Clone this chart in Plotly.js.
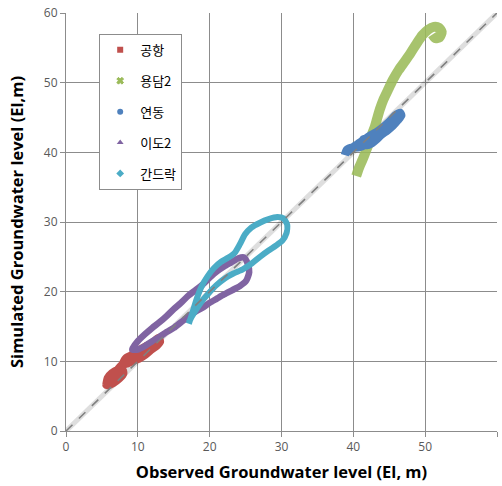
<!DOCTYPE html>
<html>
<head>
<meta charset="utf-8">
<script src="https://cdn.plot.ly/plotly-3.0.1.min.js"></script>
<style>html,body{margin:0;padding:0;background:#fff;}#chart{width:502px;height:486px;}</style>
</head>
<body>
<div id="chart"></div>
<script>
// 공항
const airportX = [5.6,5.8,6.4,7.2,7.8,8.0,7.4,6.6,5.9,5.6, 7.6,8.3,9.0,10.0,11.0,12.0,12.9,13.1,12.6,11.8,11.0,10.2,9.4,8.6,7.9,8.3,9.2,10.3];
const airportY = [6.6,7.6,8.3,8.8,9.0,8.3,7.5,6.9,6.6,6.6, 9.3,10.0,10.8,11.5,12.1,12.6,13.4,12.8,12.2,11.6,10.9,10.4,10.1,9.7,9.6,10.4,10.9,11.2];
// 용담2
const yongdamX = [40.4,40.8,41.3,41.8,42.2,42.6,43.0,43.3,43.7,44.2,44.8,45.5,46.3,47.2,48.0,48.8,49.6,50.4,51.2,51.9,52.3,52.0,51.4,51.0];
const yongdamY = [36.6,37.8,39.0,40.3,41.4,42.6,43.7,44.8,46.2,47.6,48.9,50.4,51.8,53.1,54.3,55.6,56.8,57.6,58.0,57.9,57.3,56.5,56.4,56.9];
// 연동
const yeondongX = [38.8,39.1,39.9,40.8,41.6,41.9,41.4,41.2,41.9,42.6,43.2,43.9,44.7,45.5,46.2,46.7,46.5,45.8,45.0,44.1,43.2,42.3,41.3,40.3,39.4,38.9];
const yeondongY = [39.6,40.4,40.7,40.7,41.1,41.7,41.9,41.4,41.0,41.3,41.8,42.5,43.1,43.8,44.6,45.3,45.7,45.3,44.4,43.6,42.9,42.4,41.7,41.0,40.3,39.8];
// 이도2
const idoX = [9.2,10.0,11.0,12.0,13.0,14.0,15.0,16.0,17.0,18.0,19.0,20.0,21.0,22.0,23.0,24.0,24.8,25.3,25.5,25.1,24.2,23.1,22.0,21.0,20.0,19.0,18.0,17.0,16.0,15.0,14.0,13.0,12.0,11.0,10.0,9.2];
const idoY = [11.7,12.9,13.9,14.8,15.6,16.5,17.5,18.4,19.4,20.2,21.0,22.0,22.9,23.6,24.2,24.8,24.9,24.0,22.8,21.6,20.8,20.2,19.6,19.0,18.4,17.7,17.1,16.4,15.6,14.8,14.2,13.5,12.9,12.2,11.7,11.7];
// 간드락
const gandeurakX = [17.1,17.6,18.2,18.9,19.7,20.6,21.6,22.6,23.5,24.2,24.9,25.8,27.0,28.2,29.4,30.3,30.8,30.7,30.1,29.2,28.2,27.0,25.8,24.6,23.3,22.1,20.9,19.8,18.9,18.1,17.5,17.1];
const gandeurakY = [15.4,17.0,19.0,20.8,22.2,23.4,24.3,24.9,25.6,26.8,28.2,29.2,29.9,30.4,30.7,30.5,29.6,28.4,27.3,26.6,25.9,25.0,24.0,23.2,22.6,21.9,20.9,19.7,18.6,17.4,16.4,15.6];
// 1:1 line
const diagX = [0, 60];
const diagY = [0, 60];
const axisTicks = [0,10,20,30,40,50,60];

const names = ['공항','용담2','연동','이도2','간드락'];
const colors = ['#C0504D','#9BBB59','#4F81BD','#8064A2','#4BACC6'];
const symbols = ['square','x','circle','triangle-up','diamond'];
const xs = [airportX, yongdamX, yeondongX, idoX, gandeurakX];
const ys = [airportY, yongdamY, yeondongY, idoY, gandeurakY];
const widths = [8, 10, 8, 6.5, 6];

const traces = [];
traces.push({x: diagX, y: diagY, mode:'lines', line:{color:'rgba(0,0,0,0.13)', width:5}, showlegend:false, hoverinfo:'skip'});
for (let i = 0; i < 5; i++) {
  traces.push({x: xs[i], y: ys[i], mode:'lines', line:{color:colors[i], width:widths[i], shape:'spline', smoothing:0.6}, showlegend:false, legendgroup:'g'+i, opacity: i===1?0.88:1});
}
traces.push({x: diagX, y: diagY, mode:'lines', line:{color:'#808080', width:1.6, dash:'dash'}, showlegend:false, hoverinfo:'skip'});
for (let i = 0; i < 5; i++) {
  traces.push({x:[null], y:[null], mode:'markers', name:names[i], legendgroup:'g'+i,
    marker:{color:colors[i], symbol:symbols[i], size:6, line:{width: i===1?1:0, color:colors[i]}}});
}

const axisCommon = {
  range:[0,60], tickvals: axisTicks, ticktext: axisTicks.map(String),
  showgrid:true, gridcolor:'#8C8C8C', gridwidth:1,
  zeroline:false, showline:true, linecolor:'#8C8C8C', linewidth:1,
  ticks:'outside', ticklen:5, tickcolor:'#8C8C8C',
  tickfont:{family:'Open Sans, sans-serif', size:12, color:'#595959'},
  fixedrange:true
};

const layout = {
  width:502, height:486,
  margin:{l:66, r:5, t:13, b:55},
  paper_bgcolor:'#fff', plot_bgcolor:'#fff',
  xaxis: Object.assign({}, axisCommon, {
    title:{text:'Observed Groundwater level (El, m)', font:{family:'Open Sans, sans-serif', size:16.5, color:'#000'}, standoff:12}
  }),
  yaxis: Object.assign({}, axisCommon, {
    title:{text:'Simulated Groundwater level (El,m)', font:{family:'Open Sans, sans-serif', size:16.5, color:'#000'}, standoff:16}
  }),
  legend:{
    x:0.077, y:0.95, xanchor:'left', yanchor:'top',
    bgcolor:'#fff', bordercolor:'#8C8C8C', borderwidth:1,
    font:{family:'Noto Sans CJK KR, sans-serif', size:13, color:'#000'},
    tracegroupgap:11, itemwidth:30
  },
  showlegend:true
};

Plotly.newPlot('chart', traces, layout, {staticPlot:true}).then(()=>{
  document.querySelectorAll('.g-xtitle text, .g-ytitle text').forEach(t=>t.style.fontWeight='bold');
});
</script>
</body>
</html>
